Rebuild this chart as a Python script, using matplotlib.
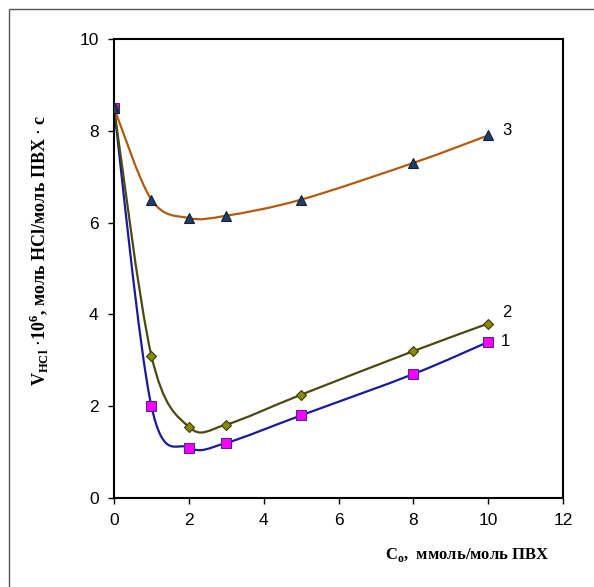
import numpy as np
import matplotlib.pyplot as plt
from matplotlib.path import Path
from matplotlib.patches import PathPatch, Rectangle

plt.rcParams['font.family'] = ['Liberation Sans', 'DejaVu Sans']

x = [0, 1, 2, 3, 5, 8, 10]
v1 = [8.5, 2.0, 1.1, 1.2, 1.8, 2.7, 3.4]
v2 = [8.5, 3.1, 1.55, 1.6, 2.25, 3.2, 3.8]
v3 = [8.5, 6.5, 6.1, 6.15, 6.5, 7.3, 7.9]
names = ['1', '2', '3']


def smooth_path(xs, ys):
    # Excel-like smoothed line: cubic Bezier through every point
    p = np.column_stack([xs, ys]).astype(float)
    n = len(p)
    verts = [p[0]]
    codes = [Path.MOVETO]
    for i in range(n - 1):
        p0 = p[i - 1] if i > 0 else p[i]
        p3 = p[i + 2] if i + 2 < n else p[i + 1]
        c1 = p[i] + (p[i + 1] - p0) / 6.0
        c2 = p[i + 1] - (p3 - p[i]) / 6.0
        verts += [c1, c2, p[i + 1]]
        codes += [Path.CURVE4] * 3
    return Path(verts, codes)


fig = plt.figure(figsize=(5.94, 5.87), dpi=100)
fig.patches.append(Rectangle((9 / 594, -0.1), 1.2, 1.1 - 9 / 587, transform=fig.transFigure,
                             fill=False, edgecolor='#555555', linewidth=1.0))
ax = fig.add_axes([114 / 594, 1 - 498 / 587, 449 / 594, 459 / 587])

series = [
    (v1, '#1a1a9a', 's', '#ff00ff', '#4a2a8a', 6.5),
    (v2, '#4a4a10', 'D', '#8a8a00', '#3a3a10', 5.5),
    (v3, '#b45a10', '^', '#1f3f66', '#10203a', 6.5),
]
for vals, lc, m, mfc, mec, ms in series:
    ax.add_patch(PathPatch(smooth_path(x, vals), fill=False, edgecolor=lc, linewidth=1.6, zorder=2))
    ax.plot(x, vals, linestyle='none', marker=m, markersize=ms, markerfacecolor=mfc,
            markeredgecolor=mec, markeredgewidth=0.8, zorder=3)

ax.text(10.45, 3.4, names[0], fontsize=12, va='center', ha='center')
ax.text(10.5, 4.05, names[1], fontsize=12, va='center', ha='center')
ax.text(10.5, 8.0, names[2], fontsize=12, va='center', ha='center')

ax.set_xlim(0, 12)
ax.set_ylim(0, 10)
ax.set_xticks(range(0, 13, 2))
ax.set_yticks(range(0, 11, 2))
ax.tick_params(direction='out', length=4, width=1, labelsize=12.5, pad=7)
for s in ax.spines.values():
    s.set_linewidth(1.5)
    s.set_color('black')

ax.set_xlabel(r'C$_\mathregular{o}$,  ммоль/моль ПВХ', family='Liberation Serif',
              fontweight='bold', fontsize=12)
ax.xaxis.set_label_coords(0.786, -0.105)
ax.set_ylabel(r'V$_\mathregular{HCl}$ $\cdot$10$^\mathregular{6}$, моль HCl/моль ПВХ $\cdot$ с',
              family='Liberation Serif', fontweight='bold', fontsize=13)
ax.yaxis.set_label_coords(-0.14, 0.54)

fig.savefig('out.png', dpi=100)
